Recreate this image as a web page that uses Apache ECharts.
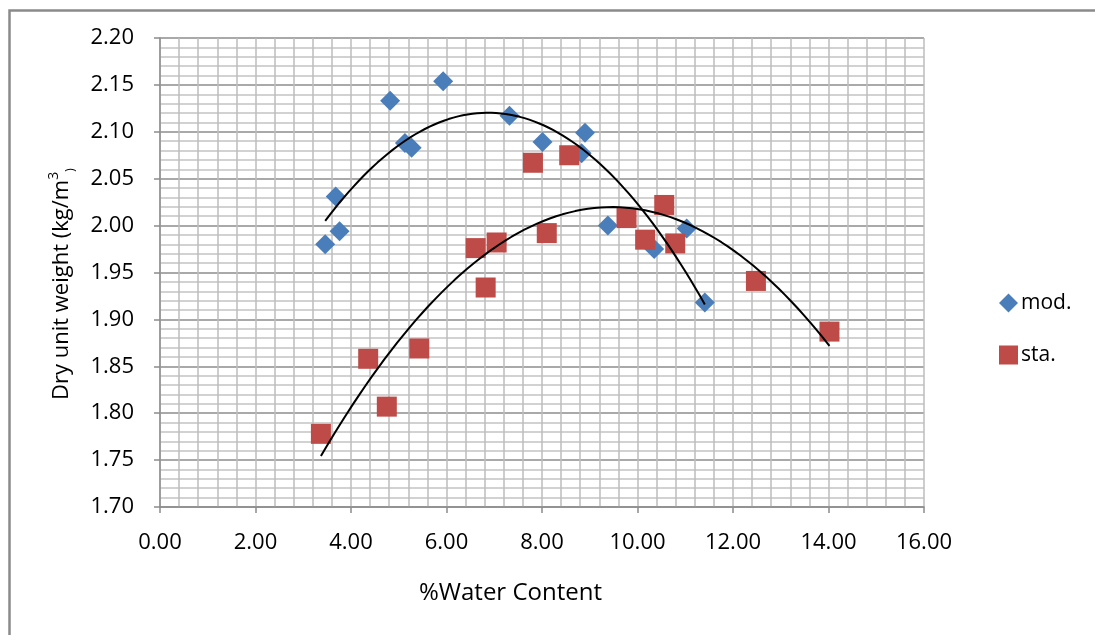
<!DOCTYPE html>
<html><head><meta charset="utf-8">
<script src="https://cdn.jsdelivr.net/npm/echarts@6/dist/echarts.min.js"></script>
<style>html,body{margin:0;padding:0;background:#fff}#c{width:1095px;height:635px}</style>
</head><body><div id="c"></div>
<script>
// Data
const modX = [3.46, 3.68, 3.76, 4.82, 5.13, 5.27, 5.93, 7.32, 8.01, 8.90, 8.83, 9.38, 10.35, 11.03, 11.41];
const modY = [1.980, 2.031, 1.994, 2.133, 2.088, 2.083, 2.154, 2.117, 2.089, 2.099, 2.077, 2.000, 1.975, 1.997, 1.918];
const staX = [3.37, 4.36, 4.75, 5.43, 6.82, 6.61, 7.05, 7.81, 8.57, 8.10, 9.77, 10.56, 10.16, 10.79, 12.48, 14.02];
const staY = [1.778, 1.858, 1.807, 1.869, 1.934, 1.976, 1.982, 2.067, 2.075, 1.992, 2.008, 2.022, 1.985, 1.981, 1.941, 1.887];
const seriesNames = ['mod.', 'sta.'];
const xAxisTitle = '%Water Content';
const yAxisTitle = 'Dry unit weight (kg/m';

// Polynomial (order 2) trendline, like the spreadsheet's least squares fit
function quadFit(xs, ys) {
  let n = xs.length, s = [0,0,0,0,0], t = [0,0,0];
  for (let i = 0; i < n; i++) {
    let p = 1;
    for (let k = 0; k < 5; k++) { s[k] += p; if (k < 3) t[k] += p * ys[i]; p *= xs[i]; }
  }
  const A = [[s[0],s[1],s[2],t[0]],[s[1],s[2],s[3],t[1]],[s[2],s[3],s[4],t[2]]];
  for (let c = 0; c < 3; c++) {
    let piv = c;
    for (let r = c+1; r < 3; r++) if (Math.abs(A[r][c]) > Math.abs(A[piv][c])) piv = r;
    [A[c], A[piv]] = [A[piv], A[c]];
    for (let r = 0; r < 3; r++) if (r !== c) {
      const f = A[r][c] / A[c][c];
      for (let k = c; k < 4; k++) A[r][k] -= f * A[c][k];
    }
  }
  return [A[0][3]/A[0][0], A[1][3]/A[1][1], A[2][3]/A[2][2]];
}
function trend(xs, ys) {
  const co = quadFit(xs, ys);
  const lo = Math.min(...xs), hi = Math.max(...xs), pts = [];
  for (let i = 0; i <= 80; i++) {
    const x = lo + (hi - lo) * i / 80;
    pts.push([x, co[0] + co[1]*x + co[2]*x*x]);
  }
  return pts;
}
const pair = (xs, ys) => xs.map((x, i) => [x, ys[i]]);

const FONT = 'Open Sans';
const chart = echarts.init(document.getElementById('c'), null, {renderer: 'canvas'});
chart.setOption({
  animation: false,
  backgroundColor: '#fff',
  grid: {left: 160, right: 171, top: 38, bottom: 128, containLabel: false},
  xAxis: {
    type: 'value', min: 0, max: 16, interval: 2,
    axisLine: {show: true, onZero: false, lineStyle: {color: '#8c8c8c', width: 1.5}},
    axisTick: {show: true, length: 6, lineStyle: {color: '#8c8c8c', width: 1.5}},
    axisLabel: {color: '#000', fontFamily: FONT, fontSize: 22, margin: 25, formatter: v => v.toFixed(2)},
    splitLine: {show: true, lineStyle: {color: '#bdbdbd', width: 1.5}},
    minorTick: {show: false, splitNumber: 5},
    minorSplitLine: {show: true, lineStyle: {color: '#bdbdbd', width: 1.5}}
  },
  yAxis: {
    type: 'value', min: 1.7, max: 2.2, interval: 0.05,
    axisLine: {show: true, lineStyle: {color: '#8c8c8c', width: 1.5}},
    axisTick: {show: true, length: 6, lineStyle: {color: '#8c8c8c', width: 1.5}},
    axisLabel: {color: '#000', fontFamily: FONT, fontSize: 22, margin: 26, formatter: v => v.toFixed(2)},
    splitLine: {show: true, lineStyle: {color: '#8c8c8c', width: 1.5}},
    minorTick: {show: false, splitNumber: 5},
    minorSplitLine: {show: true, lineStyle: {color: '#c4c4c4', width: 1.5}}
  },
  legend: {
    orient: 'vertical', left: 994, top: 286, itemGap: 28, itemWidth: 19, itemHeight: 19,
    data: [{name: seriesNames[0], icon: 'diamond'}, {name: seriesNames[1], icon: 'rect'}],
    textStyle: {color: '#000', fontFamily: FONT, fontSize: 21, lineHeight: 24, padding: [0,0,0,-2]}
  },
  series: [
    {name: seriesNames[0], type: 'scatter', symbol: 'diamond', symbolSize: 20, z: 2,
     itemStyle: {color: '#4a7ebb', opacity: 1}, data: pair(modX, modY)},
    {name: seriesNames[1], type: 'scatter', symbol: 'rect', symbolSize: 20, z: 3,
     itemStyle: {color: '#be4b48', opacity: 1}, data: pair(staX, staY)},
    {name: 'trend-mod', type: 'line', showSymbol: false, smooth: false, z: 5,
     lineStyle: {color: '#000', width: 2}, data: trend(modX, modY)},
    {name: 'trend-sta', type: 'line', showSymbol: false, smooth: false, z: 5,
     lineStyle: {color: '#000', width: 2}, data: trend(staX, staY)}
  ],
  graphic: [
    {type: 'rect', left: 7, top: 8, shape: {x: 0, y: 0, width: 1300, height: 800}, z: -10, silent: true,
     style: {fill: 'none', stroke: '#8a8a8a', lineWidth: 2.5}},
    {type: 'text', left: 419, top: 581, silent: true,
     style: {text: xAxisTitle, fill: '#000', font: '24px "' + FONT + '"'}},
    {type: 'text', x: 47, y: 400, rotation: Math.PI / 2, silent: true,
     style: {
       text: yAxisTitle + '{sup|3}{par|)}',
       fill: '#000', font: '22px "' + FONT + '"',
       rich: {
         sup: {fontSize: 14, fontFamily: FONT, fill: '#000', verticalAlign: 'top', lineHeight: 30, padding: [0,0,14,0]},
         par: {fontSize: 12, fontFamily: FONT, fill: '#000', verticalAlign: 'bottom', lineHeight: 30, padding: [14,0,0,0]}
       }
     }}
  ]
});
</script></body></html>
